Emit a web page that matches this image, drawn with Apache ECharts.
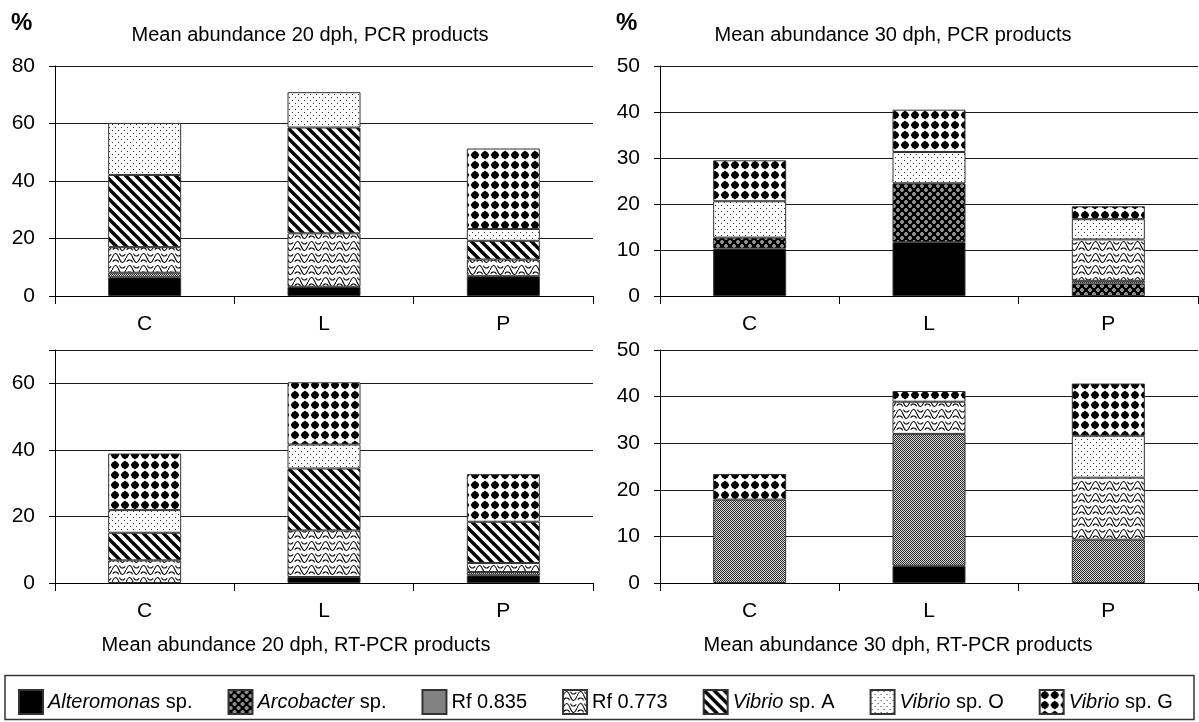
<!DOCTYPE html>
<html>
<head>
<meta charset="utf-8">
<script src="https://cdn.jsdelivr.net/npm/echarts@6/dist/echarts.min.js"></script>
<style>
html,body{margin:0;padding:0;background:#fff;}
#chart{width:1199px;height:722px;}
</style>
</head>
<body>
<div id="chart"></div>
<script>
// ---------- DATA ----------
const categories = ['C', 'L', 'P'];
const seriesNames = ['Alteromonas sp.', 'Arcobacter sp.', 'Rf 0.835', 'Rf 0.773', 'Vibrio sp. A', 'Vibrio sp. O', 'Vibrio sp. G'];
const panelTitles = ['Mean abundance 20 dph, PCR products', 'Mean abundance 30 dph, PCR products',
                     'Mean abundance 20 dph, RT-PCR products', 'Mean abundance 30 dph, RT-PCR products'];
const yMax = [80, 50, 70, 50];
const yInterval = [20, 10, 20, 10];
const yTickLabels20 = [0, 20, 40, 60];

// rows in seriesNames order, values for C, L, P
const pcr20 = [
  [6.5, 3.2, 6.9],
  [null, null, null],
  [1.6, null, null],
  [8.9, 18.6, 5.8],
  [25.1, 36.8, 6.5],
  [18.1, 12.3, 4.1],
  [null, null, 28.0]
];
const pcr30 = [
  [10.3, 11.7, null],
  [2.4, 12.8, 2.7],
  [null, null, 0.6],
  [null, null, 9.0],
  [null, null, null],
  [7.9, 6.8, 4.4],
  [8.9, 9.2, 2.8]
];
const rt20 = [
  [null, 1.8, 2.3],
  [null, null, null],
  [null, null, 1.0],
  [6.8, 14.0, 2.7],
  [8.3, 18.6, 12.4],
  [6.8, 7.2, null],
  [17.0, 18.7, 14.3]
];
const rt30 = [
  [null, 3.7, null],
  [null, null, null],
  [17.9, 28.3, 9.3],
  [null, 6.9, 13.3],
  [null, null, null],
  [null, null, 9.0],
  [5.5, 2.3, 11.2]
];
const panels = [pcr20, pcr30, rt20, rt30];

// ---------- PATTERNS ----------
function makePattern(w, h, draw) {
  const c = document.createElement('canvas');
  c.width = w; c.height = h;
  const ctx = c.getContext('2d');
  ctx.fillStyle = '#fff';
  ctx.fillRect(0, 0, w, h);
  draw(ctx);
  return { image: c, repeat: 'repeat' };
}
const fills = [
  '#000',
  makePattern(8, 8, ctx => {
    ctx.fillStyle = '#000'; ctx.fillRect(0, 0, 8, 8);
    ctx.fillStyle = '#fff';
    [[2, 2], [6, 6]].forEach(([x, y]) => { ctx.beginPath(); ctx.arc(x, y, 1.7, 0, 2 * Math.PI); ctx.fill(); });
    ctx.fillStyle = '#000';
    [[2, 2], [6, 6]].forEach(([x, y]) => { ctx.beginPath(); ctx.arc(x, y, 0.8, 0, 2 * Math.PI); ctx.fill(); });
  }),
  makePattern(2, 2, ctx => {
    ctx.fillStyle = '#2a2a2a'; ctx.fillRect(0, 0, 1, 1); ctx.fillRect(1, 1, 1, 1);
    ctx.fillStyle = '#d8d8d8'; ctx.fillRect(1, 0, 1, 1); ctx.fillRect(0, 1, 1, 1);
  }),
  makePattern(14, 12, ctx => {
    ctx.strokeStyle = '#000'; ctx.lineWidth = 1.1;
    ctx.beginPath(); ctx.moveTo(0, 6);
    ctx.bezierCurveTo(2.5, 0, 4.5, 0, 7, 6);
    ctx.bezierCurveTo(9.5, 12, 11.5, 12, 14, 6);
    ctx.stroke();
    ctx.beginPath(); ctx.arc(10.5, 1, 3, 0.15 * Math.PI, 0.95 * Math.PI); ctx.stroke();
    ctx.beginPath(); ctx.arc(3.5, 11, 3, 1.15 * Math.PI, 1.95 * Math.PI); ctx.stroke();
  }),
  makePattern(10, 10, ctx => {
    ctx.strokeStyle = '#000'; ctx.lineWidth = 3.4;
    [-10, 0, 10].forEach(o => { ctx.beginPath(); ctx.moveTo(o - 2, -2); ctx.lineTo(o + 12, 12); ctx.stroke(); });
  }),
  makePattern(6, 6, ctx => {
    ctx.fillStyle = '#333'; ctx.fillRect(1, 1, 1, 1); ctx.fillRect(4, 4, 1, 1);
  }),
  makePattern(10, 10, ctx => {
    ctx.fillStyle = '#000';
    ctx.beginPath(); ctx.moveTo(5, 0.6); ctx.lineTo(9.4, 5); ctx.lineTo(5, 9.4); ctx.lineTo(0.6, 5); ctx.closePath(); ctx.fill();
    ctx.beginPath(); ctx.arc(5, 5, 3.6, 0, 2 * Math.PI); ctx.fill();
  })
];

// ---------- LAYOUT ----------
const FONT = 'Arial, "Liberation Sans", sans-serif';
const grids = [
  { left: 55, top: 66, width: 538, height: 230 },
  { left: 660, top: 66, width: 538, height: 230 },
  { left: 55, top: 350, width: 538, height: 233 },
  { left: 660, top: 350, width: 538, height: 233 }
];

const xAxes = grids.map((g, i) => ({
  type: 'category', gridIndex: i, data: categories,
  axisLine: { show: true, lineStyle: { color: '#000', width: 1 } },
  axisTick: { show: true, length: 8, alignWithLabel: false, lineStyle: { color: '#000' } },
  axisLabel: { color: '#000', fontSize: 21, fontFamily: FONT, margin: 18 },
  splitLine: { show: false }
}));

const yAxes = grids.map((g, i) => {
  const ax = {
    type: 'value', gridIndex: i, min: 0, max: yMax[i], interval: yInterval[i],
    axisLine: { show: true, lineStyle: { color: '#000', width: 1 } },
    axisTick: { show: true, length: 6, lineStyle: { color: '#000' } },
    axisLabel: { color: '#000', fontSize: 21, fontFamily: FONT, margin: 20 },
    splitLine: { show: true, lineStyle: { color: '#1a1a1a', width: 1 } }
  };
  if (i === 2) {
    ax.axisLabel.formatter = v => (yTickLabels20.indexOf(v) >= 0 ? String(v) : '');
  }
  return ax;
});

const series = [];
panels.forEach((rows, p) => {
  rows.forEach((vals, k) => {
    series.push({
      type: 'bar', name: seriesNames[k], xAxisIndex: p, yAxisIndex: p,
      stack: 'panel' + p, barWidth: 73, data: vals,
      itemStyle: { color: fills[k], borderColor: '#333', borderWidth: 1 },
      emphasis: { disabled: true }, animation: false
    });
  });
});

const italicWords = ['Alteromonas', 'Arcobacter', 'Vibrio'];

const graphics = [
  { type: 'text', x: 11, y: 23, style: { text: '%', fontSize: 24, fontWeight: 'bold', fontFamily: FONT, fill: '#000', verticalAlign: 'middle' } },
  { type: 'text', x: 616, y: 23, style: { text: '%', fontSize: 24, fontWeight: 'bold', fontFamily: FONT, fill: '#000', verticalAlign: 'middle' } },
  { type: 'text', x: 310, y: 35, style: { text: panelTitles[0], fontSize: 20, fontFamily: FONT, fill: '#000', align: 'center', verticalAlign: 'middle' } },
  { type: 'text', x: 893, y: 35, style: { text: panelTitles[1], fontSize: 20, fontFamily: FONT, fill: '#000', align: 'center', verticalAlign: 'middle' } },
  { type: 'text', x: 296, y: 645, style: { text: panelTitles[2], fontSize: 20, fontFamily: FONT, fill: '#000', align: 'center', verticalAlign: 'middle' } },
  { type: 'text', x: 898, y: 645, style: { text: panelTitles[3], fontSize: 20, fontFamily: FONT, fill: '#000', align: 'center', verticalAlign: 'middle' } },
  { type: 'rect', shape: { x: 5, y: 675.5, width: 1189, height: 44 }, style: { fill: 'none', stroke: '#333', lineWidth: 1.5 }, z: -1 }
];

const chart = echarts.init(document.getElementById('chart'), null, { renderer: 'canvas' });
chart.setOption({
  animation: false,
  backgroundColor: '#fff',
  grid: grids,
  xAxis: xAxes,
  yAxis: yAxes,
  legend: {
    data: seriesNames, left: 18, top: 689, padding: 0, itemGap: 35, itemWidth: 24, itemHeight: 24,
    icon: 'rect', selectedMode: false,
    textStyle: { color: '#000', fontSize: 20, fontFamily: FONT, padding: [0, 0, 0, 0],
      rich: { i: { fontStyle: 'italic', fontSize: 20, fontFamily: FONT, color: '#000' } } },
    formatter: name => {
      for (const w of italicWords) {
        if (name.indexOf(w) === 0) return '{i|' + w + '}' + name.slice(w.length);
      }
      return name;
    }
  },
  graphic: graphics,
  series: series
});
</script>
</body>
</html>
